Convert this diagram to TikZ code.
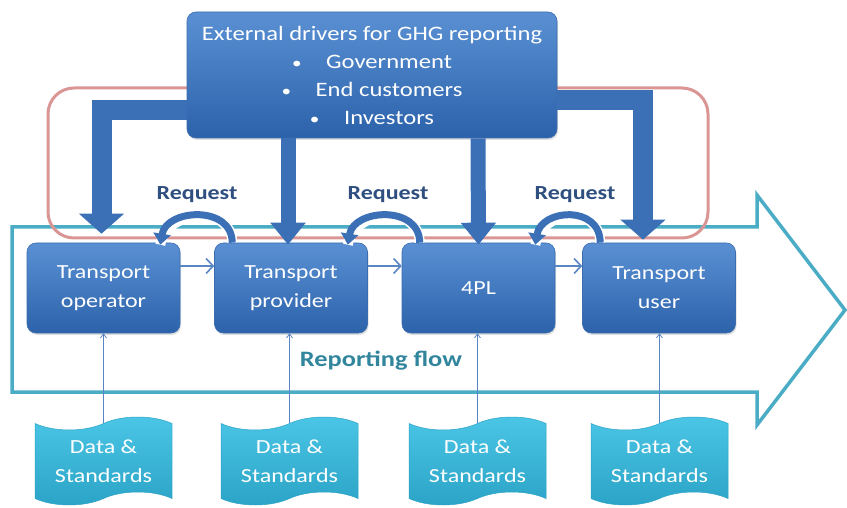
\documentclass[tikz,border=0pt]{standalone}
\usepackage{fontspec}
\setmainfont{Carlito}[FakeStretch=1.2]
\usetikzlibrary{arrows.meta,shapes.symbols,shadows,calc}

\definecolor{boxtop}{HTML}{5A90D3}
\definecolor{boxbot}{HTML}{2C62AA}
\definecolor{boxline}{HTML}{3A6DB0}
\definecolor{flowteal}{HTML}{4BACC6}
\definecolor{tapetop}{HTML}{4CC6E6}
\definecolor{tapebot}{HTML}{2AA3C6}
\definecolor{ringred}{HTML}{D99694}
\definecolor{arrowblue}{HTML}{3C70B6}
\definecolor{thinblue}{HTML}{5A86C4}
\definecolor{reqtext}{HTML}{2E4F7F}
\definecolor{flowtext}{HTML}{31859C}

\newcommand\drvbullet{{\fontsize{16}{16}\selectfont\textbullet}\hspace{1.2em}}

\tikzset{
  bluebox/.style={draw=boxline, line width=0.6pt, rounded corners=9pt,
    top color=boxtop, bottom color=boxbot, text=white, align=center,
    inner sep=0pt, font=\fontsize{20}{29}\selectfont,
    drop shadow={opacity=0.25, shadow xshift=1pt, shadow yshift=-2pt}},
  databox/.style={tape, tape bend top=in and out, tape bend bottom=in and out,
    tape bend height=13pt, draw=tapebot, line width=0.5pt,
    top color=tapetop, bottom color=tapebot, text=white, align=center,
    minimum width=137pt, minimum height=88pt, inner sep=0pt,
    font=\fontsize{20}{29}\selectfont},
  blockarrow/.style={draw=arrowblue, line width=20pt, line join=miter,
    -{Triangle[length=20pt,width=44pt]}},
  droparrow/.style={draw=arrowblue, line width=15pt,
    -{Triangle[length=22pt,width=34pt]}},
  reqarrow/.style={draw=arrowblue, line width=7pt,
    -{Triangle[length=11pt,width=17pt]}},
  reqglow/.style={draw=white, line width=10pt},
  passarrow/.style={draw=thinblue, line width=1.6pt,
    -{Straight Barb[length=7pt,width=15pt]}},
  feedarrow/.style={draw=thinblue, line width=0.8pt,
    -{Straight Barb[length=4pt,width=6pt]}},
  reqlabel/.style={text=reqtext, font=\bfseries\fontsize{20}{22}\selectfont},
}

\begin{document}
\begin{tikzpicture}[x=1pt,y=-1pt]
\useasboundingbox (0,0) rectangle (847,508);

% reporting flow arrow in the background
\draw[flowteal, line width=3.5pt, line join=miter]
  (12,227) -- (757,227) -- (757,195) -- (845,310) -- (757,425)
  -- (757,392) -- (12,392) -- cycle;

% ring of external pressure
\draw[ringred, line width=3pt, rounded corners=26pt] (48,88) rectangle (708,238);

% chain members
\node[bluebox, minimum width=153pt, minimum height=90pt] (op) at (103.5,288) {Transport\\operator};
\node[bluebox, minimum width=153pt, minimum height=90pt] (prov) at (291,288) {Transport\\provider};
\node[bluebox, minimum width=153pt, minimum height=90pt] (fpl) at (478.5,288) {4PL};
\node[bluebox, minimum width=153pt, minimum height=90pt] (user) at (659,288) {Transport\\user};

% external drivers
\node[bluebox, minimum width=370pt, minimum height=126pt,
      font=\fontsize{20.5}{28}\selectfont] (ext) at (372,75)
  {External drivers for GHG reporting\\
   \drvbullet Government\\
   \drvbullet End customers\\
   \drvbullet Investors};

% drivers acting on the chain
\draw[blockarrow] ([yshift=-35pt]ext.west) -| ([xshift=-2pt,yshift=9pt]op.north);
\draw[blockarrow] ([yshift=-25pt]ext.east) -| ([xshift=-16pt,yshift=3pt]user.north);
\draw[droparrow] ([xshift=-84pt]ext.south) -- ([xshift=-3pt,yshift=-2pt]prov.north);
\draw[droparrow] ([xshift=106pt]ext.south) -- ([yshift=-2pt]fpl.north);

% requests passed down the chain
\draw[reqglow] ([xshift=18pt]prov.north west) .. controls +(0,-38) and +(6,-36) .. ([xshift=-20pt,yshift=-2pt]op.north east);
\draw[reqarrow] ([xshift=18pt]prov.north west) .. controls +(0,-38) and +(6,-36) .. ([xshift=-20pt,yshift=-2pt]op.north east);
\draw[reqglow] ([xshift=18pt]fpl.north west) .. controls +(0,-38) and +(6,-36) .. ([xshift=-20pt,yshift=-2pt]prov.north east);
\draw[reqarrow] ([xshift=18pt]fpl.north west) .. controls +(0,-38) and +(6,-36) .. ([xshift=-20pt,yshift=-2pt]prov.north east);
\draw[reqglow] ([xshift=18pt]user.north west) .. controls +(0,-38) and +(6,-36) .. ([xshift=-20pt,yshift=-2pt]fpl.north east);
\draw[reqarrow] ([xshift=18pt]user.north west) .. controls +(0,-38) and +(6,-36) .. ([xshift=-20pt,yshift=-2pt]fpl.north east);

\node[reqlabel] (r1) at (197,195) {Request};
\node[reqlabel] (r2) at (388,195) {Request};
\node[reqlabel] (r3) at (575,195) {Request};

% information handed along the chain
\draw[passarrow] ([yshift=22pt]op.east) -- ([yshift=22pt]prov.west);
\draw[passarrow] ([yshift=22pt]prov.east) -- ([yshift=22pt]fpl.west);
\draw[passarrow] ([yshift=22pt]fpl.east) -- ([yshift=22pt]user.west);

\node[text=flowtext, font=\bfseries\fontsize{22}{24}\selectfont] (rf) at (381,361) {Reporting flow};

% data sources
\node[databox] (d1) at (103.5,461) {Data \&\\Standards};
\node[databox] (d2) at (289.5,461) {Data \&\\Standards};
\node[databox] (d3) at (477.5,461) {Data \&\\Standards};
\node[databox] (d4) at (659.5,461) {Data \&\\Standards};

\draw[feedarrow] (d1.north) -- (d1.north |- op.south);
\draw[feedarrow] (d2.north) -- (d2.north |- prov.south);
\draw[feedarrow] (d3.north) -- (d3.north |- fpl.south);
\draw[feedarrow] (d4.north) -- (d4.north |- user.south);
\end{tikzpicture}
\end{document}
